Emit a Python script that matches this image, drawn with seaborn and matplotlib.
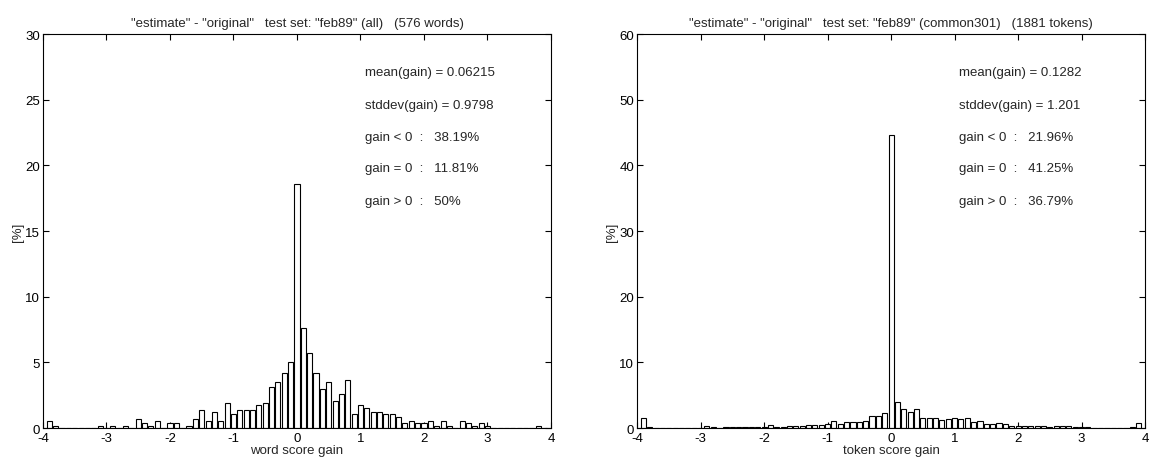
import matplotlib
matplotlib.use("Agg")
import matplotlib.pyplot as plt
import seaborn as sns

# word score gain histogram (left), bin centres and percent of 576 words
word_gain = [-3.9, -3.8, -3.1, -2.9, -2.7, -2.5, -2.4, -2.3, -2.2, -2.0, -1.9,
             -1.7, -1.6, -1.5, -1.4, -1.3, -1.2, -1.1, -1.0, -0.9, -0.8, -0.7,
             -0.6, -0.5, -0.4, -0.3, -0.2, -0.1, 0.0, 0.1, 0.2, 0.3, 0.4, 0.5,
             0.6, 0.7, 0.8, 0.9, 1.0, 1.1, 1.2, 1.3, 1.4, 1.5, 1.6, 1.7, 1.8,
             1.9, 2.0, 2.1, 2.2, 2.3, 2.4, 2.6, 2.7, 2.8, 2.9, 3.0, 3.8]
word_pct = [0.52, 0.17, 0.17, 0.17, 0.17, 0.69, 0.35, 0.17, 0.52, 0.35, 0.35,
            0.17, 0.69, 1.39, 0.52, 1.22, 0.52, 1.91, 1.04, 1.39, 1.39, 1.39,
            1.74, 1.91, 3.13, 3.47, 4.17, 5.03, 18.58, 7.64, 5.73, 4.17, 2.95, 3.47,
            2.08, 2.60, 3.65, 1.04, 1.74, 1.56, 1.22, 1.22, 1.04, 1.04, 0.87, 0.35, 0.52,
            0.35, 0.35, 0.52, 0.17, 0.52, 0.17, 0.52, 0.35, 0.17, 0.35, 0.17, 0.17]

# token score gain histogram (right), percent of 1881 tokens
token_gain = [-3.9, -3.8, -3.5, -3.3, -3.1, -2.9, -2.8, -2.6, -2.5, -2.4, -2.3,
              -2.2, -2.1, -2.0, -1.9, -1.8, -1.7, -1.6, -1.5, -1.4, -1.3, -1.2,
              -1.1, -1.0, -0.9, -0.8, -0.7, -0.6, -0.5, -0.4, -0.3, -0.2, -0.1,
              0.0, 0.1, 0.2, 0.3, 0.4, 0.5, 0.6, 0.7, 0.8, 0.9, 1.0, 1.1, 1.2,
              1.3, 1.4, 1.5, 1.6, 1.7, 1.8, 1.9, 2.0, 2.1, 2.2, 2.3, 2.4, 2.5,
              2.6, 2.7, 2.8, 2.9, 3.0, 3.1, 3.2, 3.3, 3.5, 3.8, 3.9]
token_pct = [1.50, 0.15, 0.05, 0.05, 0.05, 0.25, 0.10, 0.15, 0.15, 0.10, 0.10,
             0.10, 0.10, 0.10, 0.40, 0.15, 0.10, 0.25, 0.35, 0.25, 0.45, 0.45,
             0.45, 0.55, 1.00, 0.55, 0.90, 0.90, 0.95, 1.00, 1.90, 1.80, 2.25,
             44.7, 3.90, 2.90, 2.40, 2.95, 1.50, 1.50, 1.50, 1.20, 1.30, 1.60, 1.35, 1.60,
             0.85, 1.00, 0.65, 0.65, 0.75, 0.55, 0.35, 0.35, 0.30, 0.25, 0.30, 0.25, 0.20,
             0.25, 0.25, 0.25, 0.20, 0.15, 0.10, 0.05, 0.05, 0.05, 0.10, 0.75]

word_stats = ["mean(gain) = 0.06215", "stddev(gain) = 0.9798",
              "gain < 0  :   38.19%", "gain = 0  :   11.81%", "gain > 0  :   50%"]
token_stats = ["mean(gain) = 0.1282", "stddev(gain) = 1.201",
               "gain < 0  :   21.96%", "gain = 0  :   41.25%", "gain > 0  :   36.79%"]

sns.set_theme(style="ticks")
plt.rcParams.update({
    "font.family": ["Liberation Sans", "DejaVu Sans"],
    "axes.unicode_minus": False,
    "xtick.direction": "in",
    "ytick.direction": "in",
    "xtick.top": True,
    "ytick.right": True,
    "axes.edgecolor": "black",
    "axes.linewidth": 0.8,
})

fig = plt.figure(figsize=(11.52, 4.64), dpi=100)
ax1 = fig.add_axes([0.0373, 0.0754, 0.441, 0.849])
ax2 = fig.add_axes([0.553, 0.0754, 0.441, 0.849])


def draw(ax, gain, pct, ymax, ystep, title, xlabel, stats):
    sns.histplot(x=gain, weights=pct, bins=79, binrange=(-3.95, 3.95),
                 shrink=0.8, color="white", edgecolor="black", linewidth=0.8,
                 alpha=1, ax=ax)
    ax.set_xlim(-4, 4)
    ax.set_ylim(0, ymax)
    ax.set_xticks(range(-4, 5))
    ax.set_yticks(range(0, ymax + 1, ystep))
    ax.tick_params(labelsize=9.5, length=4, width=0.8, colors="black")
    ax.tick_params(axis="x", pad=3)
    ax.tick_params(axis="y", pad=2)
    for s in ax.spines.values():
        s.set_visible(True)
    ax.set_title(title, fontsize=9.5, pad=6)
    ax.set_xlabel(xlabel, fontsize=9.5, labelpad=0)
    ax.set_ylabel("[%]", fontsize=9.5, labelpad=1)
    for txt, yf in zip(stats, [0.904, 0.82, 0.739, 0.66, 0.576]):
        ax.text(1.07, yf, txt, fontsize=9.5, va="center", ha="left",
                transform=ax.get_xaxis_transform())


draw(ax1, word_gain, word_pct, 30, 5,
     '"estimate" - "original"   test set: "feb89" (all)   (576 words)',
     "word score gain", word_stats)
draw(ax2, token_gain, token_pct, 60, 10,
     '"estimate" - "original"   test set: "feb89" (common301)   (1881 tokens)',
     "token score gain", token_stats)

fig.savefig("out.png", dpi=100)
